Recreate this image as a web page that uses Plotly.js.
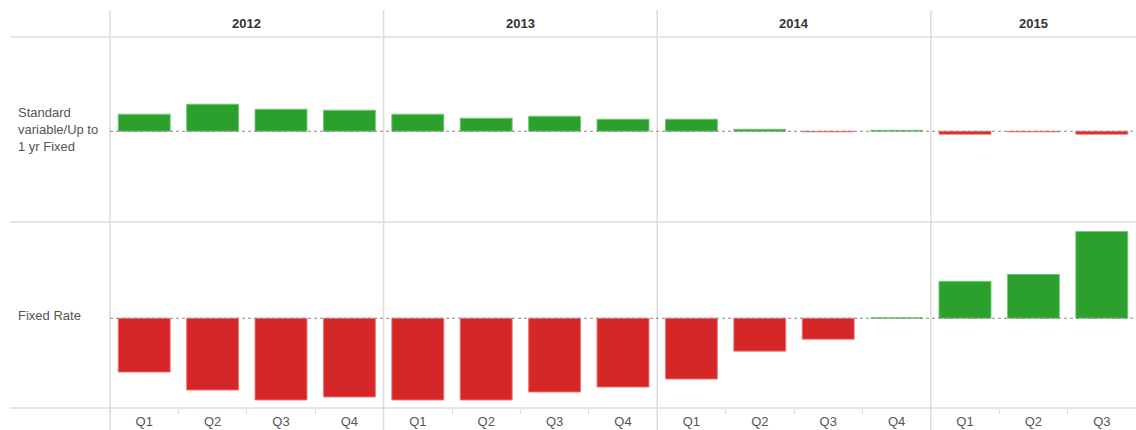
<!DOCTYPE html>
<html>
<head>
<meta charset="utf-8">
<script src="https://cdn.plot.ly/plotly-3.0.1.min.js"></script>
<style>html,body{margin:0;padding:0;background:#fff;}#chart{width:1136px;height:430px;}</style>
</head>
<body>
<div id="chart"></div>
<script>
// ---- data ----
const years = ["2012", "2013", "2014", "2015"];
const quarters = ["Q1", "Q2", "Q3", "Q4"];
const periodYear = ["2012","2012","2012","2012","2013","2013","2013","2013","2014","2014","2014","2014","2015","2015","2015"];
const periodQuarter = ["Q1","Q2","Q3","Q4","Q1","Q2","Q3","Q4","Q1","Q2","Q3","Q4","Q1","Q2","Q3"];
const rowLabels = ["Standard<br>variable/Up to<br>1 yr Fixed", "Fixed Rate"];
const standardVariable = [17, 27, 22, 21, 17, 13, 15, 12, 12, 2, -0.6, 1, -3, -0.6, -3];
const fixedRate = [-54, -72, -82, -79, -82, -82, -74, -69, -61, -33, -21, 0.6, 37, 44, 87];

// ---- styling ----
const GREEN = "#2ca02c", RED = "#d62728";
const GRID = "#dcdcdc";
const FONT = "Arial, 'Liberation Sans', sans-serif";
const W = 1136, H = 430, ML = 110, MT = 37, MB = 22;
const plotW = W - ML, plotH = H - MT - MB;
const px2paperX = x => (x - ML) / plotW;
const px2paperY = y => (H - MB - y) / plotH;

const cats = periodYear.map((y, i) => y + " " + periodQuarter[i]);
const colorsFor = arr => arr.map(v => v >= 0 ? GREEN : RED);
const lineFor = arr => arr.map(v => v >= 0 ? "rgba(120,200,120,0.9)" : "rgba(240,120,120,0.9)");

const traces = [
  {type: "bar", x: cats, y: fixedRate, xaxis: "x", yaxis: "y",
   marker: {color: colorsFor(fixedRate), line: {color: lineFor(fixedRate), width: 1}}, hoverinfo: "x+y"},
  {type: "bar", x: cats, y: standardVariable, xaxis: "x", yaxis: "y2",
   marker: {color: colorsFor(standardVariable), line: {color: lineFor(standardVariable), width: 1}}, hoverinfo: "x+y"}
];

const n = cats.length;
const shapes = [];
// horizontal grid lines (header bottom, row separator, bottom)
[37, 222, 408].forEach(py => shapes.push({type: "line", xref: "paper", yref: "paper",
  x0: px2paperX(10), x1: 1, y0: px2paperY(py), y1: px2paperY(py), line: {color: GRID, width: 1.5}, layer: "below"}));
// vertical separators at start of each year
years.forEach(yr => {
  const idx = periodYear.indexOf(yr);
  const xp = idx / n;
  shapes.push({type: "line", xref: "paper", yref: "paper", x0: xp, x1: xp,
    y0: px2paperY(430), y1: px2paperY(10), line: {color: GRID, width: 1.5}, layer: "below"});
});
// dotted zero lines
["y", "y2"].forEach(yr => shapes.push({type: "line", xref: "paper", yref: yr, x0: 0, x1: 1, y0: 0, y1: 0,
  line: {color: "#888", width: 1, dash: "dot"}, layer: "above"}));

const annotations = [];
years.forEach(yr => {
  const idxs = periodYear.map((y, i) => y === yr ? i : -1).filter(i => i >= 0);
  const center = (idxs[0] + idxs[idxs.length - 1] + 1) / 2 / n;
  annotations.push({text: "<b>" + yr + "</b>", xref: "paper", yref: "paper", x: center, y: px2paperY(23),
    showarrow: false, xanchor: "center", yanchor: "middle", font: {family: FONT, size: 13, color: "#333"}});
});
annotations.push({text: rowLabels[0], xref: "paper", yref: "y2", x: px2paperX(16), y: 0, align: "left",
  xanchor: "left", yanchor: "middle", yshift: 2, showarrow: false, font: {family: FONT, size: 13, color: "#555"}});
annotations.push({text: rowLabels[1], xref: "paper", yref: "y", x: px2paperX(16), y: 0, align: "left",
  xanchor: "left", yanchor: "middle", yshift: 3, showarrow: false, font: {family: FONT, size: 13, color: "#555"}});

const layout = {
  width: W, height: H,
  margin: {l: ML, r: 0, t: MT, b: MB, pad: 0},
  paper_bgcolor: "#fff", plot_bgcolor: "#fff",
  showlegend: false,
  bargap: 0.24,
  font: {family: FONT, size: 13, color: "#555"},
  xaxis: {type: "category", tickvals: cats, ticktext: periodQuarter, tickson: "boundaries",
    ticks: "outside", ticklen: 5, tickcolor: GRID, tickwidth: 1, showgrid: false, zeroline: false,
    showline: false, ticklabelstandoff: 4, tickfont: {family: FONT, size: 13, color: "#555"}, fixedrange: true, anchor: "y",
    range: [-0.5, n - 0.5]},
  yaxis: {domain: [0, 0.5], range: [-90, 96], visible: false, fixedrange: true},
  yaxis2: {domain: [0.5, 1], range: [-91, 94], visible: false, fixedrange: true, anchor: "x"},
  shapes: shapes,
  annotations: annotations
};

Plotly.newPlot("chart", traces, layout, {displayModeBar: false, staticPlot: true});
</script>
</body>
</html>
